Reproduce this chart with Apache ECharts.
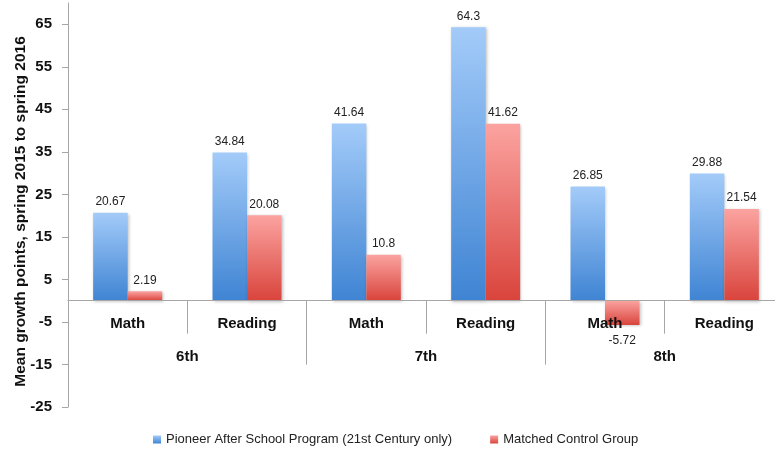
<!DOCTYPE html>
<html>
<head>
<meta charset="utf-8">
<script src="https://cdn.jsdelivr.net/npm/echarts@6/dist/echarts.min.js"></script>
<style>
  html, body { margin: 0; padding: 0; background: #fff; }
  #chart { width: 775px; height: 452px; }
</style>
</head>
<body>
<div id="chart"></div>
<script>
// Subjects (inner axis) and grades (outer axis)
const subjects = ['Math', 'Reading', 'Math', 'Reading', 'Math', 'Reading'];
const grades = ['6th', '7th', '8th'];

// Mean growth points per subject/grade
const pioneerValues = [20.67, 34.84, 41.64, 64.3, 26.85, 29.88];
const controlValues = [2.19, 20.08, 10.8, 41.62, -5.72, 21.54];

const seriesNames = ['Pioneer After School Program (21st Century only)', 'Matched Control Group'];
const yTicks = [-25, -15, -5, 5, 15, 25, 35, 45, 55, 65];
const yMin = -25;
const yMax = 70;

const FONT = 'Liberation Sans';
const W = 775, H = 452;
const gridTop = 3, gridBottom = 45;

// The category axes sit on the zero line; lift them from the grid bottom accordingly
const plotH = H - gridTop - gridBottom;
const zeroLift = -plotH * (0 - yMin) / (yMax - yMin);

function barFill(top, bottom) {
  return new echarts.graphic.LinearGradient(0, 0, 0, 1, [
    { offset: 0, color: top },
    { offset: 1, color: bottom }
  ]);
}

function toData(values) {
  return values.map(v => ({
    value: v,
    label: v < 0 ? { position: 'bottom', distance: 10 } : { position: 'top', distance: 5 }
  }));
}

const barStyleCommon = {
  shadowBlur: 3,
  shadowOffsetX: 1,
  shadowOffsetY: 1,
  shadowColor: 'rgba(0,0,0,0.25)'
};

const chart = echarts.init(document.getElementById('chart'), null, { renderer: 'canvas' });

chart.setOption({
  animation: false,
  color: ['#5b9be0', '#e5625c'],
  textStyle: { fontFamily: FONT },
  grid: {
    left: 68, right: -9, top: gridTop, bottom: gridBottom,
    containLabel: false, outerBoundsMode: 'none'
  },
  legend: {
    top: 428,
    left: 148,
    itemWidth: 8,
    itemHeight: 8,
    itemGap: 38,
    icon: 'rect',
    textStyle: { fontFamily: FONT, fontSize: 13, color: '#222' },
    data: seriesNames
  },
  xAxis: [
    {
      type: 'category',
      data: subjects,
      position: 'bottom',
      offset: zeroLift,
      z: 5,
      axisLine: { onZero: false, lineStyle: { color: '#a6a6a6', width: 1 } },
      axisTick: { show: true, interval: 0, length: 33, lineStyle: { color: '#a6a6a6' } },
      axisLabel: {
        interval: 0, margin: 16,
        fontFamily: FONT, fontSize: 15, fontWeight: 'bold', color: '#111'
      }
    },
    {
      type: 'category',
      data: grades,
      position: 'bottom',
      offset: zeroLift,
      axisLine: { show: false, onZero: false },
      axisTick: { show: true, interval: 0, length: 64, lineStyle: { color: '#a6a6a6' } },
      axisLabel: {
        interval: 0, margin: 49,
        fontFamily: FONT, fontSize: 15, fontWeight: 'bold', color: '#111'
      }
    }
  ],
  yAxis: {
    type: 'value',
    min: yMin,
    max: yMax,
    name: 'Mean growth points, spring 2015 to spring 2016',
    nameLocation: 'middle',
    nameGap: 39,
    nameMoveOverlap: false,
    nameTextStyle: {
      fontFamily: FONT, fontSize: 15.5, fontWeight: 'bold', color: '#111',
      padding: [0, 13, 0, 0]
    },
    axisLine: { show: true, lineStyle: { color: '#a6a6a6' } },
    axisTick: { show: true, length: 6, customValues: yTicks, lineStyle: { color: '#a6a6a6' } },
    axisLabel: {
      customValues: yTicks, margin: 16,
      fontFamily: FONT, fontSize: 15, fontWeight: 'bold', color: '#111'
    },
    splitLine: { show: false }
  },
  series: [
    {
      name: seriesNames[0],
      type: 'bar',
      xAxisIndex: 0,
      barWidth: 34.5,
      barGap: '0%',
      data: toData(pioneerValues),
      itemStyle: Object.assign({ color: barFill('#a3cbf9', '#3f84d3') }, barStyleCommon),
      label: { show: true, fontFamily: FONT, fontSize: 12, color: '#222' }
    },
    {
      name: seriesNames[1],
      type: 'bar',
      xAxisIndex: 0,
      barWidth: 34.5,
      barGap: '0%',
      data: toData(controlValues),
      itemStyle: Object.assign({ color: barFill('#fba3a0', '#d9443c') }, barStyleCommon),
      label: { show: true, fontFamily: FONT, fontSize: 12, color: '#222' }
    }
  ]
});
</script>
</body>
</html>
